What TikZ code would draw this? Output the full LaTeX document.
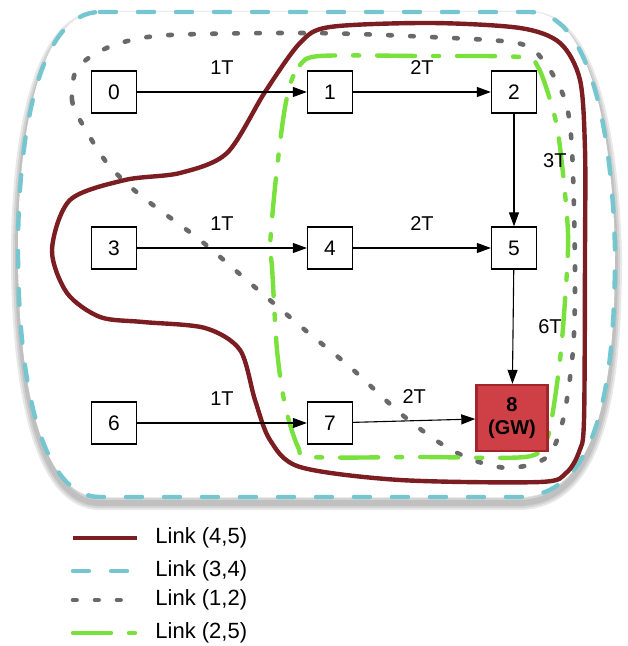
\documentclass[tikz,border=0pt]{standalone}
\usepackage{fontspec}
\setmainfont{Liberation Sans}
\usetikzlibrary{arrows.meta}
\definecolor{LinkRed}{RGB}{123,29,33}
\definecolor{LinkCyan}{RGB}{118,198,208}
\definecolor{LinkGray}{RGB}{105,105,105}
\definecolor{LinkGreen}{RGB}{120,225,60}
\definecolor{GWRed}{RGB}{206,64,70}
\definecolor{GWBorder}{RGB}{160,38,44}
\newcommand{\areapath}{(100,12) -- (530,12) .. controls (590,12) and (612,130) .. (615,250)
  .. controls (615,380) and (600,495) .. (520,497) -- (100,497)
  .. controls (40,497) and (18,380) .. (18,250) .. controls (18,130) and (40,12) .. (100,12) -- cycle}
\tikzset{
  nodebox/.style={draw,fill=white,line width=0.65pt,minimum width=22.5pt,minimum height=21pt,inner sep=0pt,font=\fontsize{10.5}{12}\selectfont},
  gwbox/.style={draw=GWBorder,fill=GWRed,line width=1.2pt,minimum width=35.5pt,minimum height=33pt,inner sep=0pt,align=center,font=\fontsize{10}{11.5}\selectfont\bfseries},
  hop/.style={-{Triangle[length=7pt,width=5pt]},line width=0.55pt},
  cost/.style={font=\fontsize{10}{12}\selectfont},
  link45/.style={LinkRed,line width=2.2pt},
  link34/.style={LinkCyan,line width=2.2pt,line cap=round,dash pattern=on 8pt off 11pt},
  link12/.style={LinkGray,line width=2.3pt,line cap=round,dash pattern=on 1.8pt off 9.2pt},
  link25/.style={LinkGreen,line width=2.2pt,line cap=round,dash pattern=on 19pt off 9pt on 3pt off 9pt},
  legtext/.style={anchor=west,inner sep=0pt,font=\fontsize{11}{13}\selectfont},
}
\begin{document}
\begin{tikzpicture}[x=0.5pt,y=-0.5pt]
\useasboundingbox (0,0) rectangle (627,646);
% soft shadow under the link (3,4) area
\foreach \w in {7,5,3}
  \draw[black,opacity=0.09,line width=\w pt,yshift=-3pt] \areapath;
% link (3,4) area
\draw[link34,fill=white] \areapath;
% link (1,2) area
\draw[link12] plot[smooth cycle] coordinates {(75,73) (72,100) (80,120) (107,163) (140,195) (200,240) (250,283) (305,330) (350,367) (400,413) (440,443) (473,460) (510,468) (547,457) (563,420) (573,350) (575,270) (572,150) (565,100) (543,60) (517,43) (430,37) (310,33) (170,35) (120,43) (90,57)};
% link (4,5) area
\draw[link45] plot[smooth cycle] coordinates {(330,27) (300,43) (265,92) (227,153) (180,173) (125,180) (70,200) (52,250) (67,293) (100,317) (143,322) (205,328) (240,350) (255,400) (270,440) (300,467) (400,480) (540,482) (566,473) (579,452) (584,420) (585,250) (585,150) (580,80) (560,43) (520,28) (430,23)};
% link (2,5) area
\draw[link25] plot[smooth cycle] coordinates {(290,85) (300,65) (320,56) (420,56) (520,57) (538,67) (553,110) (560,147) (568,233) (565,300) (560,360) (552,417) (545,443) (525,457) (420,457) (312,457) (298,447) (285,405) (277,350) (272,267) (270,247) (275,187) (283,120)};

% nodes
\node[nodebox] (n0) at (114,92) {0};
\node[nodebox] (n1) at (330,92) {1};
\node[nodebox] (n2) at (514,92) {2};
\node[nodebox] (n3) at (114,248) {3};
\node[nodebox] (n4) at (330,248) {4};
\node[nodebox] (n5) at (514,248) {5};
\node[nodebox] (n6) at (114,423) {6};
\node[nodebox] (n7) at (330,423) {7};
\node[gwbox] (n8) at (512,418) {8\\(GW)};

% hops
\draw[hop] (n0) -- node[cost,above=5pt] {1T} (n1);
\draw[hop] (n1) -- node[cost,above=5pt] {2T} (n2);
\draw[hop] (n2) -- node[cost,right=11pt,pos=0.42] {3T} (n5);
\draw[hop] (n3) -- node[cost,above=5pt] {1T} (n4);
\draw[hop] (n4) -- node[cost,above=5pt] {2T} (n5);
\draw[hop] (n5) -- node[cost,right=9pt] {6T} (n8);
\draw[hop] (n6) -- node[cost,above=5pt] {1T} (n7);
\draw[hop] (n7) -- node[cost,above=5pt] {2T} (n8);

% legend
\coordinate (la) at (73,538); \coordinate (lb) at (137,538);
\coordinate (lc) at (73,571); \coordinate (ld) at (137,571);
\coordinate (le) at (73,600); \coordinate (lf) at (137,600);
\coordinate (lg) at (73,633); \coordinate (lh) at (137,633);
\draw[link45] (la) -- (lb);
\draw[link34] (lc) -- (ld);
\draw[link12] (le) -- (lf);
\draw[link25] (lg) -- (lh);
\node[legtext] (t45) at (155,538) {Link (4,5)};
\node[legtext] (t34) at (155,571) {Link (3,4)};
\node[legtext] (t12) at (155,600) {Link (1,2)};
\node[legtext] (t25) at (155,633) {Link (2,5)};
\end{tikzpicture}
\end{document}
